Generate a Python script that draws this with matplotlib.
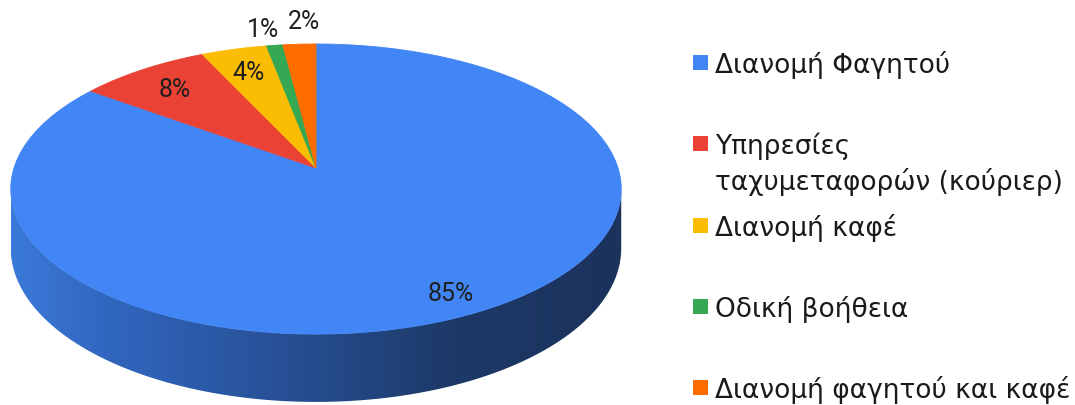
import numpy as np
import matplotlib
matplotlib.use("Agg")
import matplotlib.pyplot as plt
from matplotlib.patches import Polygon, Rectangle
from matplotlib.colors import LinearSegmentedColormap

# ---- data ----
categories = [
    "Διανομή Φαγητού",
    "Υπηρεσίες\nταχυμεταφορών (κούριερ)",
    "Διανομή καφέ",
    "Οδική βοήθεια",
    "Διανομή φαγητού και καφέ",
]
shares = [85, 8, 4, 1, 2]
colors = ["#4285F4", "#EA4335", "#FBBC04", "#34A853", "#FF6D01"]

# ---- layout (pixel space) ----
W, H_FIG = 1075, 405
CX, CY = 316, 168          # centre of the top face
RA, RB = 302, 142          # radii of the disc before perspective
K = 0.145                  # perspective strength
THICK = 58                 # height of the disc wall
label_r = [0.87, 0.80, 0.80, 1.0, 1.0]
label_shift = [(0, 0), (0, 0), (0, 0), (-12, -17), (5, -24)]


def project(r, theta_deg, drop=0.0):
    t = np.radians(theta_deg)
    u = r * np.sin(t)
    v = -r * np.cos(t)
    s = 1.0 / (1.0 - K * v)
    return CX + RA * u * s, CY + (RB * v + drop) * s


fig = plt.figure(figsize=(W / 100, H_FIG / 100), dpi=100)
ax = fig.add_axes([0, 0, 1, 1])
ax.set_xlim(0, W)
ax.set_ylim(H_FIG, 0)
ax.axis("off")

# ---- wall of the disc (front half) with a horizontal shading ----
theta_r = np.degrees(np.arccos(-K))          # rightmost silhouette angle
theta_l = 360 - theta_r                       # leftmost silhouette angle
ts = np.linspace(theta_r, theta_l, 300)
tx, ty = project(1.0, ts)
bx, by = project(1.0, ts, THICK)
wall_pts = np.column_stack([np.r_[tx, bx[::-1]], np.r_[ty, by[::-1]]])
wall = Polygon(wall_pts, closed=True, facecolor="none", edgecolor="none")
ax.add_patch(wall)

xmin, xmax = tx.min(), tx.max()
stops = [
    (0.00, (59 / 255, 122 / 255, 216 / 255)),
    (0.16, (49 / 255, 102 / 255, 191 / 255)),
    (0.52, (37 / 255, 74 / 255, 138 / 255)),
    (0.72, (29 / 255, 57 / 255, 104 / 255)),
    (1.00, (27 / 255, 50 / 255, 92 / 255)),
]
shade = LinearSegmentedColormap.from_list("wall", stops)
grad = np.linspace(0, 1, 512)[None, :]
img = ax.imshow(grad, cmap=shade, aspect="auto",
                extent=[xmin, xmax, by.max() + 2, ty.min() - 2],
                interpolation="bilinear", zorder=1)
img.set_clip_path(wall)

# ---- top face ----
total = float(sum(shares))
start = 0.0
mids = []
for val, col in zip(shares, colors):
    span = 360.0 * val / total
    tt = np.linspace(start, start + span, max(int(span * 2), 4))
    px, py = project(1.0, tt)
    pts = np.column_stack([np.r_[CX, px], np.r_[CY, py]])
    ax.add_patch(Polygon(pts, closed=True, facecolor=col, edgecolor=col,
                         linewidth=0.6, zorder=2))
    mids.append(start + span / 2)
    start += span

# ---- value labels ----
for val, mid, r, (dx, dy) in zip(shares, mids, label_r, label_shift):
    lx, ly = project(r, mid)
    ax.text(lx + dx, ly + dy + 9, f"{val}%", family="Roboto", fontsize=18,
            color="#1f1f1f", ha="center", va="baseline", zorder=3)

# ---- legend ----
LEG_X, LEG_Y0, LEG_DY = 693, 73, 81.3
LEG_FONT = dict(family="DejaVu Sans", fontsize=19, color="#1a1a1a",
                ha="left", va="baseline", zorder=3)
for i, (name, col) in enumerate(zip(categories, colors)):
    base = LEG_Y0 + i * LEG_DY
    ax.add_patch(Rectangle((LEG_X, base - 18), 15, 15, facecolor=col,
                           edgecolor="none", zorder=3))
    first, *rest = name.split("\n")
    ax.text(LEG_X + 22, base, first, **LEG_FONT)
    for j, line in enumerate(rest, start=1):
        ax.text(LEG_X + 22, base + 36 * j, line, **LEG_FONT)

fig.savefig("out.png", dpi=100, facecolor="white")
